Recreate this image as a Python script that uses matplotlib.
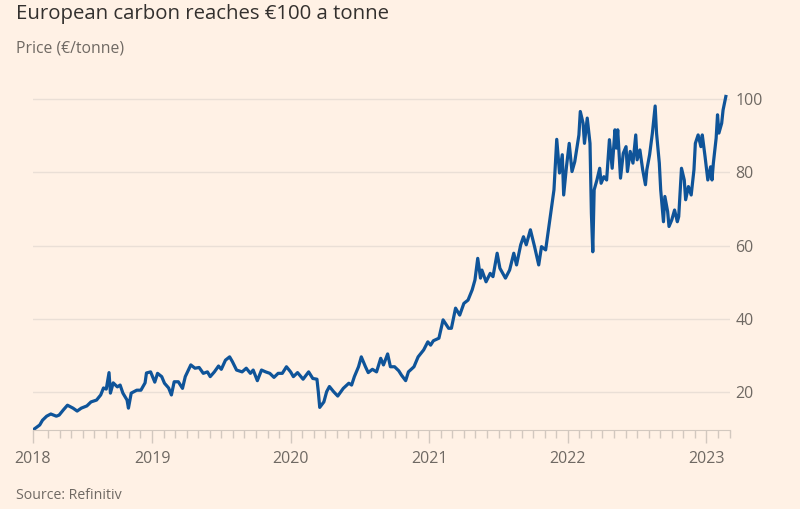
import numpy as np
import matplotlib
matplotlib.use("Agg")
import matplotlib.pyplot as plt
from matplotlib.ticker import FixedLocator

plt.rcParams["font.family"] = ["Open Sans", "DejaVu Sans"]

# decimal years
years = [
    2018.14, 2018.19, 2018.21, 2018.24, 2018.27, 2018.31, 2018.33, 2018.36, 2018.39, 2018.43,
    2018.46, 2018.49, 2018.53, 2018.56, 2018.60, 2018.63, 2018.65, 2018.67, 2018.69, 2018.70,
    2018.72, 2018.75, 2018.77, 2018.79, 2018.82, 2018.83, 2018.85, 2018.89, 2018.92, 2018.95,
    2018.96, 2018.99, 2019.02, 2019.04, 2019.07, 2019.09, 2019.12, 2019.14, 2019.16, 2019.19,
    2019.22, 2019.24, 2019.28, 2019.31, 2019.34, 2019.37, 2019.40, 2019.42, 2019.45, 2019.48,
    2019.50, 2019.53, 2019.56, 2019.58, 2019.61, 2019.65, 2019.68, 2019.71, 2019.73, 2019.76,
    2019.79, 2019.82, 2019.85, 2019.88, 2019.91, 2019.94, 2019.97, 2020.00, 2020.02, 2020.05,
    2020.09, 2020.13, 2020.16, 2020.19, 2020.20, 2020.21, 2020.24, 2020.26, 2020.28, 2020.31,
    2020.34, 2020.38, 2020.42, 2020.44, 2020.46, 2020.49, 2020.51, 2020.54, 2020.56, 2020.59,
    2020.62, 2020.65, 2020.67, 2020.70, 2020.72, 2020.75, 2020.78, 2020.80, 2020.83, 2020.85,
    2020.89, 2020.92, 2020.96, 2020.99, 2021.01, 2021.03, 2021.07, 2021.10, 2021.14, 2021.16,
    2021.19, 2021.22, 2021.25, 2021.28, 2021.31, 2021.33, 2021.35, 2021.37, 2021.38, 2021.41,
    2021.44, 2021.46, 2021.49, 2021.51, 2021.55, 2021.58, 2021.61, 2021.63, 2021.66, 2021.68,
    2021.70, 2021.73, 2021.76, 2021.79, 2021.81, 2021.84, 2021.86, 2021.88, 2021.90, 2021.91,
    2021.92, 2021.94, 2021.96, 2021.97, 2021.99, 2022.01, 2022.03, 2022.05, 2022.08, 2022.09,
    2022.11, 2022.12, 2022.14, 2022.16, 2022.17, 2022.18, 2022.19, 2022.21, 2022.23, 2022.24,
    2022.26, 2022.28, 2022.30, 2022.32, 2022.34, 2022.35, 2022.36, 2022.38, 2022.40, 2022.42,
    2022.43, 2022.45, 2022.47, 2022.49, 2022.50, 2022.52, 2022.54, 2022.56, 2022.57, 2022.59,
    2022.61, 2022.63, 2022.64, 2022.66, 2022.67, 2022.69, 2022.70, 2022.72, 2022.73, 2022.75,
    2022.77, 2022.79, 2022.80, 2022.82, 2022.84, 2022.85, 2022.87, 2022.89, 2022.91, 2022.92,
    2022.94, 2022.96, 2022.97, 2022.99, 2023.01, 2023.03, 2023.04, 2023.05, 2023.07, 2023.08,
    2023.09, 2023.11, 2023.12, 2023.14,
]

# EUA price, EUR per tonne
price = [
    9.6, 11.0, 12.3, 13.4, 14.0, 13.4, 13.7, 15.1, 16.4, 15.6,
    14.8, 15.6, 16.2, 17.3, 17.8, 19.2, 21.1, 20.8, 25.3, 19.7,
    22.5, 21.4, 21.9, 19.7, 17.8, 15.6, 19.7, 20.5, 20.5, 22.5,
    25.2, 25.5, 22.7, 25.1, 24.2, 22.4, 21.1, 19.2, 22.8, 22.8,
    21.0, 24.2, 27.4, 26.5, 26.7, 25.1, 25.5, 24.2, 25.5, 27.1,
    26.2, 28.7, 29.6, 28.3, 26.0, 25.5, 26.5, 25.1, 26.0, 23.1,
    26.0, 25.5, 25.1, 24.0, 25.1, 25.1, 26.9, 25.5, 24.2, 25.3,
    23.5, 25.5, 23.7, 23.5, 20.0, 15.8, 17.3, 20.1, 21.5, 20.1,
    18.9, 21.0, 22.4, 21.9, 24.2, 26.9, 29.6, 26.9, 25.3, 26.2,
    25.5, 29.2, 27.4, 30.4, 26.9, 26.9, 25.8, 24.6, 23.1, 25.5,
    26.9, 29.6, 31.5, 33.7, 32.8, 34.0, 34.7, 39.7, 37.4, 37.4,
    42.9, 41.0, 44.2, 45.1, 47.9, 50.6, 56.5, 51.1, 53.3, 50.1,
    52.4, 51.5, 57.9, 53.8, 51.1, 53.3, 57.9, 54.7, 60.2, 62.4,
    60.2, 64.3, 59.7, 54.7, 59.7, 58.8, 64.3, 69.7, 75.2, 82.0,
    89.0, 79.8, 84.8, 73.8, 81.5, 87.9, 80.2, 82.9, 90.2, 96.6,
    93.4, 87.9, 94.8, 87.9, 68.8, 58.3, 75.2, 77.9, 81.1, 77.0,
    78.8, 77.9, 88.9, 81.1, 91.6, 86.6, 91.6, 78.4, 85.2, 87.0,
    80.2, 85.7, 82.5, 90.2, 83.4, 86.1, 80.7, 76.6, 80.7, 84.8,
    90.7, 98.1, 90.7, 82.5, 75.2, 66.5, 73.4, 69.3, 65.2, 67.0,
    69.7, 66.5, 67.9, 81.1, 77.9, 72.5, 76.1, 73.8, 80.7, 87.9,
    90.2, 87.0, 90.2, 84.3, 77.9, 81.5, 77.9, 82.5, 89.3, 95.7,
    90.7, 93.4, 97.0, 100.7,
]

year_labels = ["2018", "2019", "2020", "2021", "2022", "2023"]
year_ticks = [2018.14, 2019, 2020, 2021, 2022, 2023]
y_ticks = [20, 40, 60, 80, 100]

bg = "#fff1e5"
fig = plt.figure(figsize=(8, 5.09), dpi=100, facecolor=bg)
ax = fig.add_axes([0.041, 0.155, 0.8715, 0.672], facecolor=bg)

ax.plot(years, price, color="#0f5499", lw=2.3, solid_joinstyle="round")

ax.set_xlim(2018.14, 2023.17)
ax.set_ylim(9.6, 103)

# right-hand y axis, gridlines only
ax.yaxis.tick_right()
ax.set_yticks(y_ticks)
ax.tick_params(axis="y", length=0, pad=4, labelsize=11.5, labelcolor="#6f6963")
ax.grid(axis="y", color="#eadfd6", lw=1)

# x axis with yearly labels and monthly ticks
ax.set_xticks(year_ticks)
ax.set_xticklabels(year_labels)
ax.xaxis.set_minor_locator(FixedLocator(np.arange(2018 + 3 / 12, 2023.17, 1 / 12)))
ax.tick_params(axis="x", which="major", length=9, width=1, color="#d2c8bf",
               pad=6, labelsize=11.5, labelcolor="#6f6963")
ax.tick_params(axis="x", which="minor", length=6, width=1, color="#d2c8bf")

for s in ["top", "left", "right"]:
    ax.spines[s].set_visible(False)
ax.spines["bottom"].set_color("#d2c8bf")
ax.set_axisbelow(True)

fig.text(0.02, 0.992, "European carbon reaches €100 a tonne", ha="left", va="top",
         fontsize=14.7, color="#33302e")
fig.text(0.02, 0.92, "Price (€/tonne)", ha="left", va="top",
         fontsize=11.3, color="#6f6963")
fig.text(0.02, 0.012, "Source: Refinitiv", ha="left", va="bottom",
         fontsize=10.2, color="#6f6963")

fig.savefig("out.png", dpi=100, facecolor=bg)
